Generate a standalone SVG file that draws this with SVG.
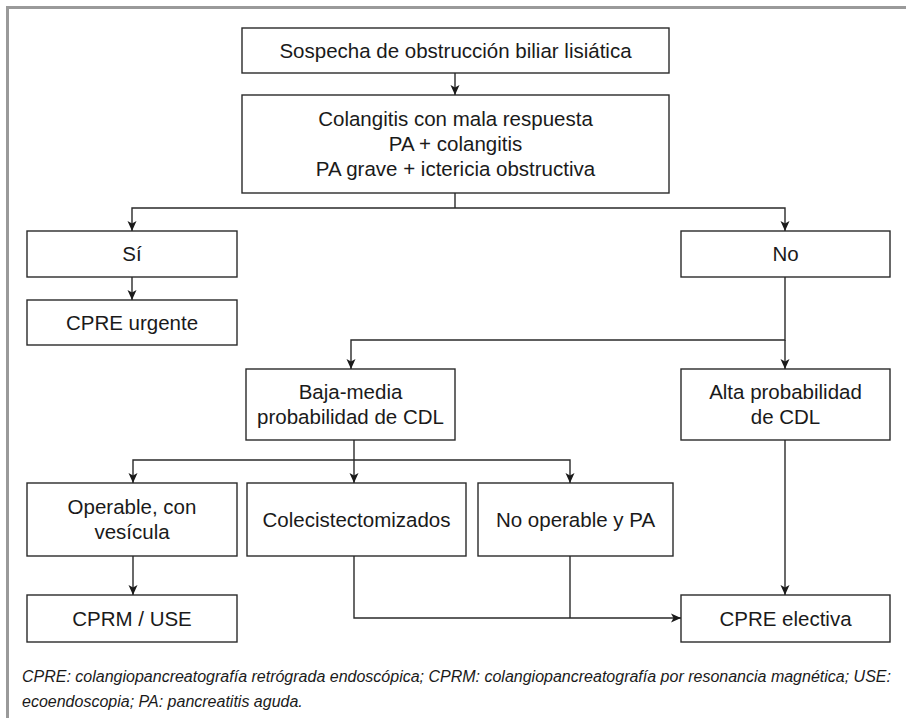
<svg xmlns="http://www.w3.org/2000/svg" width="906" height="718" viewBox="0 0 906 718">
<style>
.box{fill:#fff;stroke:#2a2a2a;stroke-width:1.4}
.t{font-family:"Liberation Sans",Arial,sans-serif;font-size:20.5px;fill:#1a1a1a;text-anchor:middle}
.c{fill:none;stroke:#2a2a2a;stroke-width:1.4}
.fn{font-family:"Liberation Sans",Arial,sans-serif;font-size:16px;font-style:italic;fill:#1a1a1a}
</style>
<defs>
<marker id="ah" viewBox="0 0 10 10" refX="10" refY="5" markerWidth="10" markerHeight="10" markerUnits="userSpaceOnUse" orient="auto">
<path d="M0,0.5 L10,5 L0,9.5 L2.5,5 Z" fill="#1a1a1a"/>
</marker>
</defs>
<rect x="0" y="0" width="906" height="718" fill="#fff"/>
<path d="M7.5,718 V7.5 H906" fill="none" stroke="#9a9a9a" stroke-width="3"/>
<g id="n1"><rect class="box" x="242" y="28" width="427" height="45"/><text class="t" x="455.5" y="58">Sospecha de obstrucción biliar lisiática</text></g>
<g id="n2"><rect class="box" x="242" y="95" width="427" height="98"/><text class="t" x="455.5" y="126">Colangitis con mala respuesta</text><text class="t" x="455.5" y="151">PA + colangitis</text><text class="t" x="455.5" y="176">PA grave + ictericia obstructiva</text></g>
<g id="n3"><rect class="box" x="27" y="231" width="210" height="46"/><text class="t" x="132" y="261">Sí</text></g>
<g id="n4"><rect class="box" x="681" y="231" width="209" height="46"/><text class="t" x="785.5" y="261">No</text></g>
<g id="n5"><rect class="box" x="27" y="300" width="210" height="45"/><text class="t" x="132" y="330">CPRE urgente</text></g>
<g id="n6"><rect class="box" x="246" y="369" width="209" height="71"/><text class="t" x="350.5" y="399">Baja-media</text><text class="t" x="350.5" y="424">probabilidad de CDL</text></g>
<g id="n7"><rect class="box" x="681" y="369" width="209" height="71"/><text class="t" x="785.5" y="399">Alta probabilidad</text><text class="t" x="785.5" y="424">de CDL</text></g>
<g id="n8"><rect class="box" x="27" y="483" width="210" height="73"/><text class="t" x="132" y="514">Operable, con</text><text class="t" x="132" y="539">vesícula</text></g>
<g id="n9"><rect class="box" x="247" y="483" width="219" height="73"/><text class="t" x="356.5" y="527">Colecistectomizados</text></g>
<g id="n10"><rect class="box" x="478" y="483" width="195" height="73"/><text class="t" x="575.5" y="527">No operable y PA</text></g>
<g id="n11"><rect class="box" x="27" y="595" width="210" height="47"/><text class="t" x="132" y="626">CPRM / USE</text></g>
<g id="n12"><rect class="box" x="681" y="595" width="209" height="47"/><text class="t" x="785.5" y="626">CPRE electiva</text></g>
<g id="connectors">
<path class="c" d="M455,73 V95" marker-end="url(#ah)"/>
<path class="c" d="M455,193 V208"/>
<path class="c" d="M455,208 H132 V231" marker-end="url(#ah)"/>
<path class="c" d="M455,208 H785 V231" marker-end="url(#ah)"/>
<path class="c" d="M132,277 V300" marker-end="url(#ah)"/>
<path class="c" d="M785,277 V340 H351 V369" marker-end="url(#ah)"/>
<path class="c" d="M785,340 V369" marker-end="url(#ah)"/>
<path class="c" d="M354,440 V460"/>
<path class="c" d="M354,460 H133 V483" marker-end="url(#ah)"/>
<path class="c" d="M354,460 V483" marker-end="url(#ah)"/>
<path class="c" d="M354,460 H570 V483" marker-end="url(#ah)"/>
<path class="c" d="M133,556 V595" marker-end="url(#ah)"/>
<path class="c" d="M354,556 V618 H681" marker-end="url(#ah)"/>
<path class="c" d="M570,556 V618"/>
<path class="c" d="M785,440 V595" marker-end="url(#ah)"/>
</g>
<text class="fn" x="22" y="682">CPRE: colangiopancreatografía retrógrada endoscópica; CPRM: colangiopancreatografía por resonancia magnética; USE:</text>
<text class="fn" x="22" y="707">ecoendoscopia; PA: pancreatitis aguda.</text>
</svg>
